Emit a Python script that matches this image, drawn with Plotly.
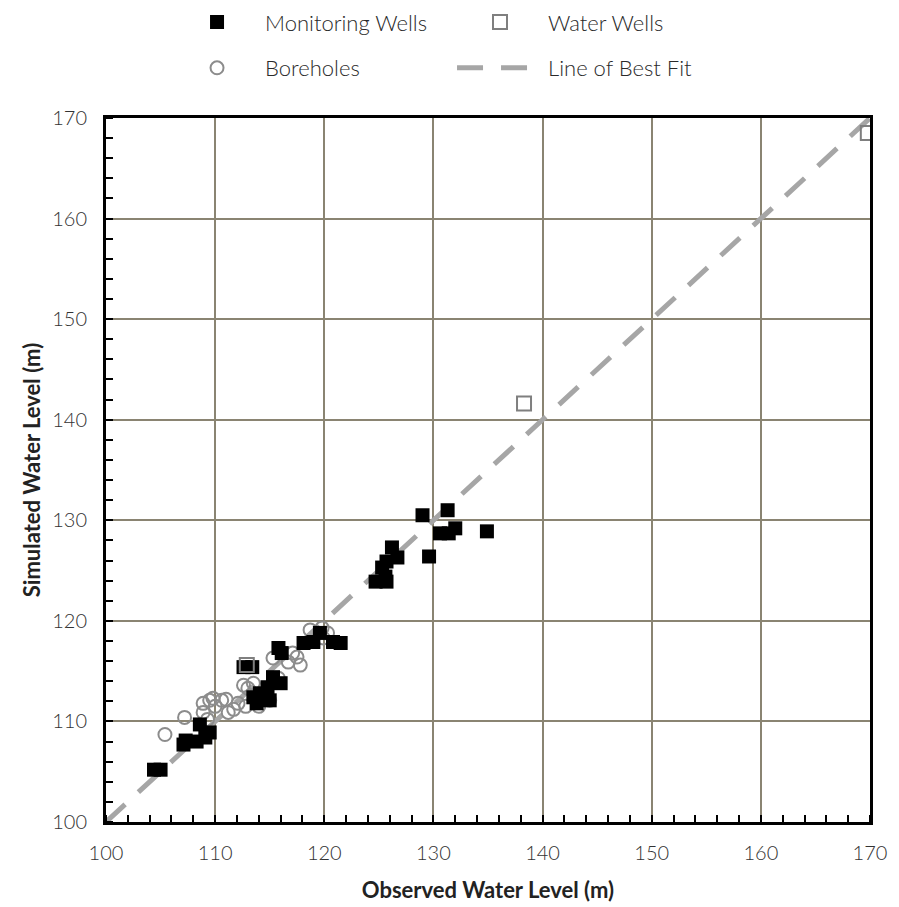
import plotly.graph_objects as go

# Monitoring wells (observed, simulated)
mw_obs = [104.4, 105.0, 107.1, 107.3, 108.3, 109.1, 109.5, 108.6,
          112.6, 113.4, 115.8, 116.1, 118.1, 119.0, 120.8, 121.5, 119.6,
          115.3, 114.8, 114.1, 113.5, 113.8, 116.0, 115.0,
          129.0, 131.3, 132.0, 130.6, 131.4, 134.9, 129.6, 126.2, 126.7,
          125.7, 125.3, 125.6, 124.7, 125.7]
mw_sim = [105.2, 105.2, 107.7, 108.1, 108.0, 108.4, 108.9, 109.7,
          115.4, 115.4, 117.3, 116.8, 117.8, 117.9, 117.9, 117.8, 118.8,
          114.4, 113.4, 112.8, 112.4, 111.8, 113.8, 112.1,
          130.5, 131.0, 129.2, 128.7, 128.7, 128.9, 126.4, 127.3, 126.3,
          125.9, 125.3, 124.4, 123.9, 123.9]

# Water wells
ww_obs = [112.9, 138.3, 169.8]
ww_sim = [115.6, 141.6, 168.5]

# Boreholes
bh_obs = [105.4, 107.2, 108.9, 109.5, 110.0, 110.6, 108.9, 109.3, 111.2, 111.7,
          112.1, 112.8, 112.6, 113.0, 113.5, 113.7, 114.0, 115.0, 115.3, 115.8,
          116.7, 117.5, 117.8, 117.1, 118.7, 119.8, 120.3, 119.9, 109.8, 111.0]
bh_sim = [108.7, 110.4, 111.8, 112.1, 111.5, 112.1, 110.9, 110.2, 110.9, 111.2,
          111.8, 111.5, 113.6, 113.3, 113.8, 112.6, 111.5, 112.1, 116.3, 114.3,
          115.9, 116.4, 115.6, 116.8, 119.1, 119.3, 118.8, 118.3, 112.3, 112.2]

# Line of best fit
fit_x = [100, 170]
fit_y = [100, 170]

x_ticks = [100, 110, 120, 130, 140, 150, 160, 170]
y_ticks = [100, 110, 120, 130, 140, 150, 160, 170]

FONT = "Lato"
GRID = "#8a8472"

fig = go.Figure()
fig.add_trace(go.Scatter(
    x=fit_x, y=fit_y, mode="lines", name="Line of Best Fit",
    line=dict(color="#a6a6a6", width=5, dash="26px,18px"),
    legend="legend2", legendrank=2))
fig.add_trace(go.Scatter(
    x=bh_obs, y=bh_sim, mode="markers", name="Boreholes",
    marker=dict(symbol="circle-open", size=13, color="#8c8c8c",
                line=dict(width=2, color="#8c8c8c")),
    legend="legend2", legendrank=1))
fig.add_trace(go.Scatter(
    x=mw_obs, y=mw_sim, mode="markers", name="Monitoring Wells",
    marker=dict(symbol="square", size=14, color="black"),
    legend="legend", legendrank=1))
fig.add_trace(go.Scatter(
    x=ww_obs, y=ww_sim, mode="markers", name="Water Wells",
    marker=dict(symbol="square-open", size=14, color="#7f7f7f",
                line=dict(width=2, color="#7f7f7f")),
    legend="legend", legendrank=2))

tickfont = dict(family=FONT, size=20, color="#333333", weight=300)
axis_common = dict(
    range=[100, 170], showgrid=True, gridcolor=GRID,
    gridwidth=2, zeroline=False, showline=True, linecolor="black",
    linewidth=3, mirror=True, ticks="", tickfont=tickfont,
    minor=dict(dtick=2, ticks="inside", ticklen=7, tickwidth=2, tickcolor="black", showgrid=False),
)

legend_common = dict(orientation="h", xanchor="left", yanchor="middle",
                     entrywidth=182, entrywidthmode="pixels", traceorder="normal",
                     font=dict(family=FONT, size=22, color="#2a2a2a", weight=300),
                     bgcolor="rgba(0,0,0,0)", itemwidth=86)

fig.update_layout(
    width=899, height=907,
    margin=dict(l=98, r=37, t=110, b=93, autoexpand=False),
    paper_bgcolor="white", plot_bgcolor="white",
    font=dict(family=FONT, color="#222222"),
    xaxis=dict(**axis_common, tickvals=x_ticks, ticklabelstandoff=11,
               title=dict(text="<b>Observed Water Level (m)</b>",
                          font=dict(family=FONT, size=22, color="#222222"), standoff=20)),
    yaxis=dict(**axis_common, tickvals=y_ticks, ticklabelstandoff=12,
               title=dict(text="<b>Simulated Water Level (m)</b>",
                          font=dict(family=FONT, size=22, color="#222222"), standoff=6)),
    legend=dict(**legend_common, x=0.0825, y=1.136),
    legend2=dict(**legend_common, x=0.0825, y=1.071),
    showlegend=True,
)

fig.write_html("out.html")
